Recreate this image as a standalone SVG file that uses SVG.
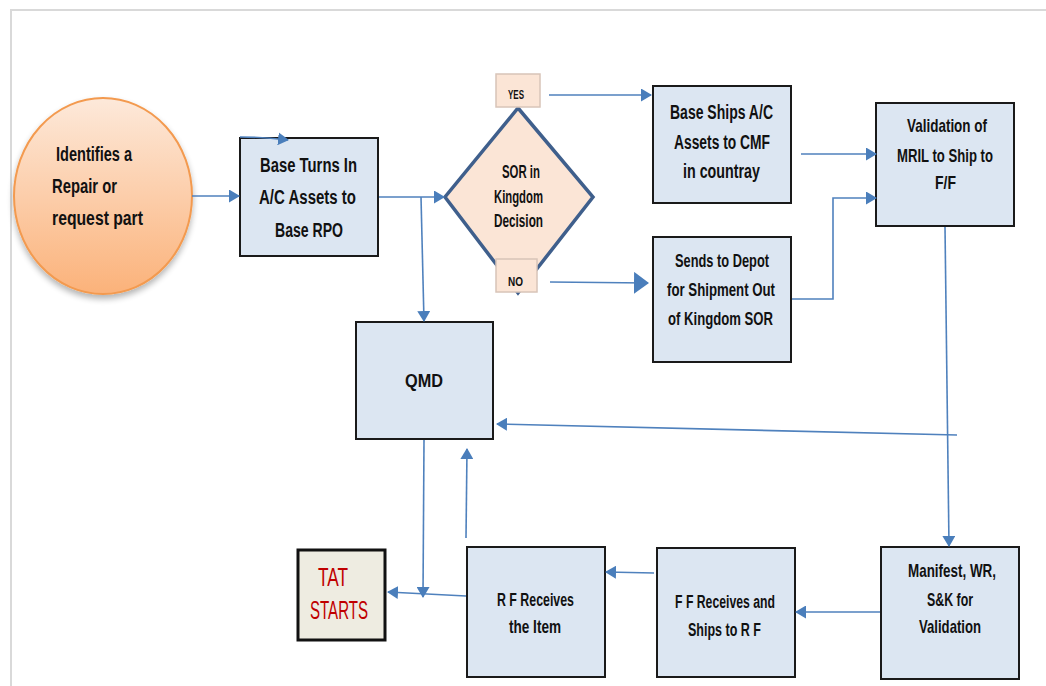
<svg xmlns="http://www.w3.org/2000/svg" width="1046" height="686" viewBox="0 0 1046 686">
<defs>
<linearGradient id="orange" x1="0" y1="0" x2="0" y2="1">
<stop offset="0" stop-color="#fde9da"/>
<stop offset="1" stop-color="#fbb27a"/>
</linearGradient>
<filter id="sh" x="-20%" y="-20%" width="140%" height="140%">
<feGaussianBlur in="SourceAlpha" stdDeviation="3"/>
<feOffset dx="0" dy="4" result="b"/>
<feComponentTransfer><feFuncA type="linear" slope="0.3"/></feComponentTransfer>
<feMerge><feMergeNode/><feMergeNode in="SourceGraphic"/></feMerge>
</filter>
<marker id="ah" markerUnits="userSpaceOnUse" markerWidth="11" markerHeight="13" refX="10" refY="6.5" orient="auto">
<path d="M0,0 L11,6.5 L0,13 z" fill="#4a7ebb"/>
</marker>
<marker id="ahb" markerUnits="userSpaceOnUse" markerWidth="15" markerHeight="22" refX="14" refY="11" orient="auto">
<path d="M0,0 L15,11 L0,22 z" fill="#4a7ebb"/>
</marker>
</defs>
<style>
.box{fill:#dce6f2;stroke:#1a1a1a;stroke-width:2}
.t{font-family:"Liberation Sans",Arial,sans-serif;font-weight:bold;fill:#111}
.c{fill:none;stroke:#4f81bd;stroke-width:1.6}
</style>
<rect width="1046" height="686" fill="#ffffff"/>
<g id="frame" fill="none" stroke="#d9d9d9" stroke-width="2">
<path d="M11,686 L11,10 L1046,10"/>
</g>

<g id="identify">
<ellipse cx="103" cy="196" rx="89" ry="98" fill="url(#orange)" stroke="#f39a4f" stroke-width="2" filter="url(#sh)"/>
<text class="t" font-size="20" lengthAdjust="spacingAndGlyphs"><tspan x="56" y="161" textLength="76" lengthAdjust="spacingAndGlyphs">Identifies a</tspan><tspan x="52" y="193" textLength="65" lengthAdjust="spacingAndGlyphs">Repair  or</tspan><tspan x="52" y="225" textLength="91" lengthAdjust="spacingAndGlyphs">request part</tspan></text>
</g>

<g id="base-turns-in">
<rect class="box" x="240" y="138" width="138" height="118"/>
<text class="t" font-size="20"><tspan x="260" y="172" textLength="97" lengthAdjust="spacingAndGlyphs">Base Turns In</tspan><tspan x="259" y="204" textLength="97" lengthAdjust="spacingAndGlyphs">A/C Assets to</tspan><tspan x="275" y="237" textLength="68" lengthAdjust="spacingAndGlyphs">Base RPO</tspan></text>
</g>

<g id="decision">
<path d="M518,108 L593,197 L518,293 L445,197 z" fill="#fbe5d6" stroke="#3f5f8c" stroke-width="3.5" stroke-linejoin="miter"/>
<text class="t" font-size="18"><tspan x="502" y="178" textLength="38" lengthAdjust="spacingAndGlyphs">SOR in</tspan><tspan x="494" y="203" textLength="49" lengthAdjust="spacingAndGlyphs">Kingdom</tspan><tspan x="494" y="227" textLength="49" lengthAdjust="spacingAndGlyphs">Decision</tspan></text>
</g>

<g id="yes">
<rect x="496" y="74" width="44" height="33" fill="#fbe5d6" stroke="#d8c4b8" stroke-width="1.5"/>
<text class="t" font-size="12" x="508" y="99" textLength="16" lengthAdjust="spacingAndGlyphs">YES</text>
</g>

<g id="no">
<rect x="496" y="259" width="41" height="33" fill="#fbe5d6" stroke="#d8c4b8" stroke-width="1.5"/>
<text class="t" font-size="12" x="508" y="286" textLength="15" lengthAdjust="spacingAndGlyphs">NO</text>
</g>

<g id="base-ships">
<rect class="box" x="653" y="86" width="138" height="117"/>
<text class="t" font-size="20"><tspan x="670" y="119" textLength="103" lengthAdjust="spacingAndGlyphs">Base  Ships A/C</tspan><tspan x="674" y="149" textLength="96" lengthAdjust="spacingAndGlyphs">Assets to CMF</tspan><tspan x="683" y="178" textLength="77" lengthAdjust="spacingAndGlyphs">in countray</tspan></text>
</g>

<g id="sends-to-depot">
<rect class="box" x="653" y="237" width="138" height="125"/>
<text class="t" font-size="19"><tspan x="675" y="267" textLength="94" lengthAdjust="spacingAndGlyphs">Sends to Depot</tspan><tspan x="667" y="296" textLength="108" lengthAdjust="spacingAndGlyphs">for Shipment Out</tspan><tspan x="668" y="325" textLength="105" lengthAdjust="spacingAndGlyphs">of Kingdom  SOR</tspan></text>
</g>

<g id="validation">
<rect class="box" x="876" y="103" width="138" height="123"/>
<text class="t" font-size="19"><tspan x="907" y="132" textLength="80" lengthAdjust="spacingAndGlyphs">Validation of</tspan><tspan x="897" y="162" textLength="96" lengthAdjust="spacingAndGlyphs">MRIL to Ship to</tspan><tspan x="935" y="189" textLength="21" lengthAdjust="spacingAndGlyphs">F/F</tspan></text>
</g>

<g id="qmd">
<rect class="box" x="356" y="322" width="137" height="117"/>
<text class="t" font-size="19" x="405" y="387" textLength="38" lengthAdjust="spacingAndGlyphs">QMD</text>
</g>

<g id="tat-starts">
<rect x="298" y="550" width="87" height="90" fill="#eeece1" stroke="#111" stroke-width="3"/>
<text class="t" font-size="25" style="font-weight:normal;fill:#c00000"><tspan x="318" y="586" textLength="30" lengthAdjust="spacingAndGlyphs">TAT</tspan><tspan x="310" y="619" textLength="58" lengthAdjust="spacingAndGlyphs">STARTS</tspan></text>
</g>

<g id="rf-receives">
<rect class="box" x="467" y="547" width="138" height="130"/>
<text class="t" font-size="18"><tspan x="497" y="606" textLength="77" lengthAdjust="spacingAndGlyphs">R F Receives</tspan><tspan x="509" y="633" textLength="52" lengthAdjust="spacingAndGlyphs">the Item</tspan></text>
</g>

<g id="ff-receives">
<rect class="box" x="657" y="548" width="138" height="129"/>
<text class="t" font-size="18"><tspan x="675" y="608" textLength="100" lengthAdjust="spacingAndGlyphs">F F Receives and</tspan><tspan x="688" y="636" textLength="73" lengthAdjust="spacingAndGlyphs">Ships to R F</tspan></text>
</g>

<g id="manifest">
<rect class="box" x="881" y="547" width="138" height="132"/>
<text class="t" font-size="19"><tspan x="908" y="577" textLength="88" lengthAdjust="spacingAndGlyphs">Manifest, WR,</tspan><tspan x="927" y="606" textLength="46" lengthAdjust="spacingAndGlyphs">S&amp;K for</tspan><tspan x="919" y="633" textLength="62" lengthAdjust="spacingAndGlyphs">Validation</tspan></text>
</g>

<g id="connectors">
<path class="c" d="M192,196 L239,196" marker-end="url(#ah)"/>
<path class="c" d="M240,137 Q262,137 288,140" marker-end="url(#ah)"/>
<path class="c" d="M379,197 L444,197" marker-end="url(#ah)"/>
<path class="c" d="M421,197 L424,321" marker-end="url(#ah)"/>
<path class="c" d="M549,95 L651,95" marker-end="url(#ah)"/>
<path class="c" d="M550,282 L648,283" stroke-width="3.5" marker-end="url(#ahb)"/>
<path class="c" d="M801,154 L876,154" marker-end="url(#ah)"/>
<path class="c" d="M792,299 L833,299 L833,198 L876,198" marker-end="url(#ah)"/>
<path class="c" d="M945,227 L949,546" marker-end="url(#ah)"/>
<path class="c" d="M957,435 L497,424" marker-end="url(#ah)"/>
<path class="c" d="M880,612 L796,612" marker-end="url(#ah)"/>
<path class="c" d="M654,573 L606,572" marker-end="url(#ah)"/>
<path class="c" d="M466,596 L388,592" marker-end="url(#ah)"/>
<path class="c" d="M466,538 L467,449" marker-end="url(#ah)"/>
<path class="c" d="M424,440 L423,597" marker-end="url(#ah)"/>
</g>
</svg>
